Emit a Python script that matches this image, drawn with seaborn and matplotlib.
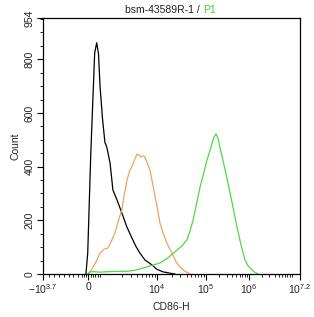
import numpy as np
import pandas as pd
import matplotlib
matplotlib.use("Agg")
import matplotlib.pyplot as plt
import seaborn as sns

# ---- data (channel units on the display axis, counts) ----
black_x = [167, 174, 186, 196, 201, 209, 216, 222, 232, 241, 248, 261, 272, 288, 307, 326, 346, 362, 377, 397, 424, 442, 467, 494, 514]
black_y = [0, 78, 450, 698, 823, 862, 820, 698, 574, 490, 474, 413, 313, 276, 227, 176, 134, 102, 78, 52, 34, 18, 8, 3, 0]

orange_x = [175, 191, 206, 222, 237, 253, 265, 280, 292, 307, 317, 327, 337, 346, 356, 366, 374, 381, 389, 395, 405, 416, 428, 444, 455, 467, 482, 502, 518, 533, 553, 572]
orange_y = [0, 20, 45, 78, 92, 97, 120, 153, 195, 239, 300, 350, 385, 400, 425, 447, 443, 436, 441, 438, 415, 388, 330, 250, 190, 153, 115, 78, 45, 26, 10, 0]

green_x = [175, 183, 195, 222, 261, 300, 327, 358, 389, 416, 455, 486, 521, 541, 560, 572, 584, 597, 611, 625, 638, 650, 658, 665, 673, 681, 689, 700, 714, 728, 741, 755, 770, 786, 798, 813, 825, 837]
green_y = [0, 8, 9, 7, 9, 10, 10, 14, 22, 30, 41, 60, 89, 105, 127, 160, 201, 260, 324, 375, 425, 460, 488, 510, 522, 505, 470, 425, 365, 302, 240, 175, 110, 52, 30, 15, 6, 0]

x_tick_pos = [0, 177, 444, 634, 802, 1000]
x_tick_labels = [r"$-10^{3.7}$", "0", r"$10^{4}$", r"$10^{5}$", r"$10^{6}$", r"$10^{7.2}$"]
y_tick_pos = [0, 200, 400, 600, 800, 954]

c_black = "#000000"
c_orange = "#F0A064"
c_green = "#50D840"

sns.set_style("ticks")
plt.rcParams["font.family"] = ["Liberation Sans", "DejaVu Sans"]
plt.rcParams["mathtext.fontset"] = "custom"
plt.rcParams["mathtext.rm"] = "Liberation Sans"
plt.rcParams["mathtext.it"] = "Liberation Sans"
plt.rcParams["mathtext.default"] = "regular"

fig = plt.figure(figsize=(3.14, 3.17), dpi=100)
ax = fig.add_axes([43 / 314, 1 - 274 / 317, 257 / 314, 256 / 317])

for xs, ys, col in [(black_x, black_y, c_black), (orange_x, orange_y, c_orange), (green_x, green_y, c_green)]:
    df = pd.DataFrame({"x": xs, "y": ys})
    sns.lineplot(data=df, x="x", y="y", color=col, lw=0.9, ax=ax, sort=False)

ax.set_xlim(0, 1000)
ax.set_ylim(0, 954)
for s in ax.spines.values():
    s.set_visible(True)
    s.set_linewidth(0.9)
    s.set_color("black")

ax.set_xticks(x_tick_pos)
ax.set_xticklabels(x_tick_labels, fontsize=7.5)
ax.set_yticks(y_tick_pos)
ax.set_yticklabels([str(v) for v in y_tick_pos], fontsize=7.5, rotation=90, va="center")

# minor ticks
neg_minor = [23, 43, 62, 80, 100, 118, 136, 150, 160, 168, 186, 194, 203, 213, 222]
dec3 = [250 + 194 * np.log10(k) for k in range(2, 10)]
dec4 = [444 + 190 * np.log10(k) for k in range(2, 10)]
dec5 = [634 + 168 * np.log10(k) for k in range(2, 10)]
dec6 = [802 + 165 * np.log10(k) for k in range(2, 11)]
ax.set_xticks(neg_minor + dec3 + dec4 + dec5 + dec6, minor=True)
ax.set_yticks([v for v in range(50, 954, 50) if v % 200 != 0], minor=True)

ax.tick_params(axis="both", which="major", length=4, width=0.8, direction="out", pad=2, colors="black")
ax.tick_params(axis="both", which="minor", length=2.5, width=0.6, direction="out", colors="black")
ax.tick_params(axis="both", labelcolor="#222222")

ax.set_xlabel("CD86-H", fontsize=7.5, labelpad=4)
ax.set_ylabel("Count", fontsize=7.5, labelpad=3)

fig.text(203 / 314, 1 - 10 / 317, "bsm-43589R-1 / ", ha="right", va="center", fontsize=7.5, color="#222222")
fig.text(203 / 314, 1 - 10 / 317, "P1", ha="left", va="center", fontsize=7.5, color="#40D040")

fig.savefig("out.png", dpi=100)
